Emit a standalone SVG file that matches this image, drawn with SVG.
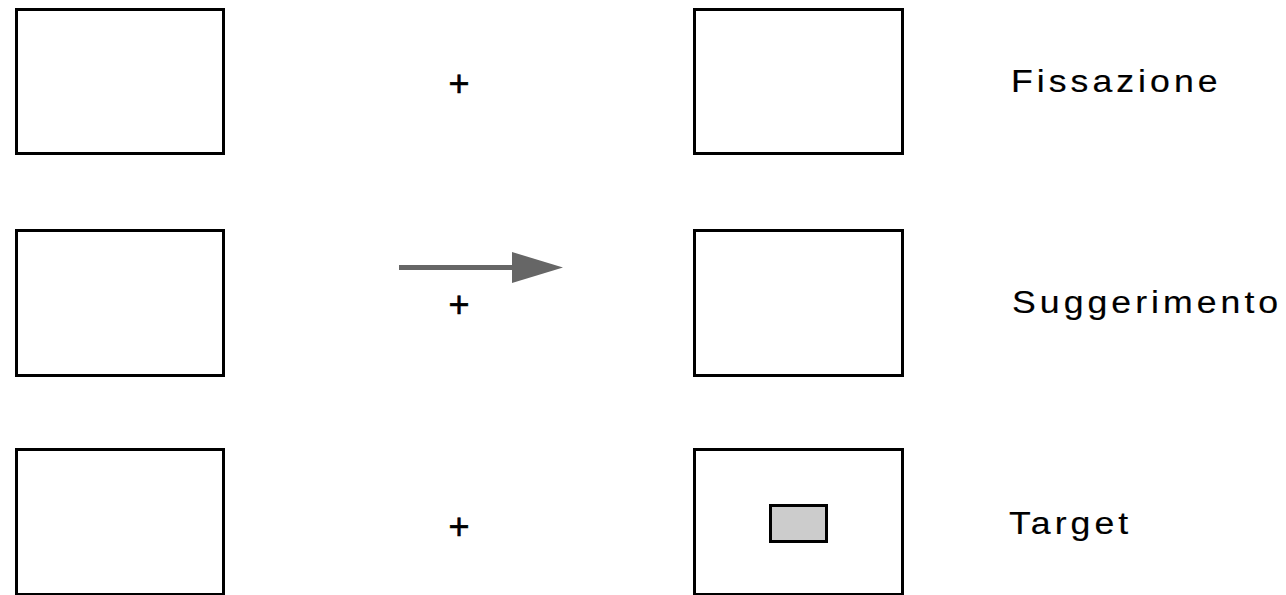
<svg xmlns="http://www.w3.org/2000/svg" width="1286" height="595" viewBox="0 0 1286 595">
<style>
.box{fill:#fff;stroke:#000;stroke-width:3}
.target{fill:#cccccc;stroke:#000;stroke-width:3}
.plus{font-family:"Liberation Sans",Arial,sans-serif;font-size:36px;fill:#000;stroke:#000;stroke-width:0.6;text-anchor:middle}
.label{font-family:"Liberation Sans",Arial,sans-serif;font-size:31px;fill:#000;stroke:#000;stroke-width:0.15;letter-spacing:3.5px}
.conn{stroke:#666;stroke-width:5;fill:none}
</style>
<defs>
<marker id="head" markerUnits="userSpaceOnUse" markerWidth="52" markerHeight="32" refX="0" refY="15.5" orient="auto">
<path d="M0,0 L51,15.5 L0,31 Z" fill="#666"/>
</marker>
</defs>
<rect width="1286" height="595" fill="#fff"/>
<g id="left-1"><rect class="box" x="16.5" y="9.5" width="207" height="144"/></g>
<g id="left-2"><rect class="box" x="16.5" y="230.5" width="207" height="145"/></g>
<g id="left-3"><rect class="box" x="16.5" y="449.5" width="207" height="145"/></g>
<g id="plus-1"><text class="plus" x="459" y="95.5">+</text></g>
<g id="plus-2"><text class="plus" x="459" y="317">+</text></g>
<g id="plus-3"><text class="plus" x="459" y="538.5">+</text></g>
<g id="right-1"><rect class="box" x="694.5" y="9.5" width="208" height="144"/></g>
<g id="right-2"><rect class="box" x="694.5" y="230.5" width="208" height="145"/></g>
<g id="right-3"><rect class="box" x="694.5" y="449.5" width="208" height="145"/><rect class="target" x="770.5" y="505.5" width="56" height="36"/></g>
<g id="label-1"><text class="label" transform="translate(1011 91.5) scale(1.15 1)">Fissazione</text></g>
<g id="label-2"><text class="label" transform="translate(1012 312.5) scale(1.15 1)">Suggerimento</text></g>
<g id="label-3"><text class="label" transform="translate(1009 534) scale(1.15 1)">Target</text></g>
<g id="connectors"><line class="conn" x1="399" y1="267.5" x2="512" y2="267.5" marker-end="url(#head)"/></g>
</svg>
